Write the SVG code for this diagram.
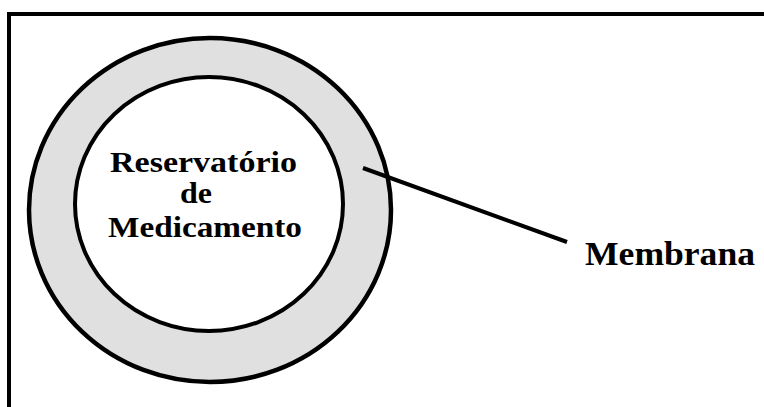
<svg xmlns="http://www.w3.org/2000/svg" width="764" height="407" viewBox="0 0 764 407">
<style>
.frame{fill:none;stroke:#000;stroke-width:4}
.ring{fill:#e0e0e0;stroke:#000;stroke-width:4.5}
.core{fill:#fff;stroke:#000;stroke-width:4}
.conn{stroke:#000;stroke-width:4;fill:none}
.lbl{font-family:"Liberation Serif","Times New Roman",serif;font-weight:bold;fill:#000}
</style>
<rect width="764" height="407" fill="#fff"/>
<path class="frame" d="M9,410 V14 H770"/>
<g id="membrana-ring">
<ellipse class="ring" cx="210" cy="210" rx="181" ry="172"/>
</g>
<g id="reservatorio">
<ellipse class="core" cx="209" cy="204" rx="134" ry="127"/>
<text class="lbl" x="110" y="172" font-size="29" textLength="187" lengthAdjust="spacingAndGlyphs">Reservatório</text>
<text class="lbl" x="180" y="203" font-size="29" textLength="32" lengthAdjust="spacingAndGlyphs">de</text>
<text class="lbl" x="108" y="237" font-size="29" textLength="194" lengthAdjust="spacingAndGlyphs">Medicamento</text>
</g>
<g id="connectors">
<line class="conn" x1="363" y1="168" x2="567" y2="242"/>
</g>
<g id="membrana-label">
<text class="lbl" x="585" y="265" font-size="33" textLength="170" lengthAdjust="spacingAndGlyphs">Membrana</text>
</g>
</svg>
